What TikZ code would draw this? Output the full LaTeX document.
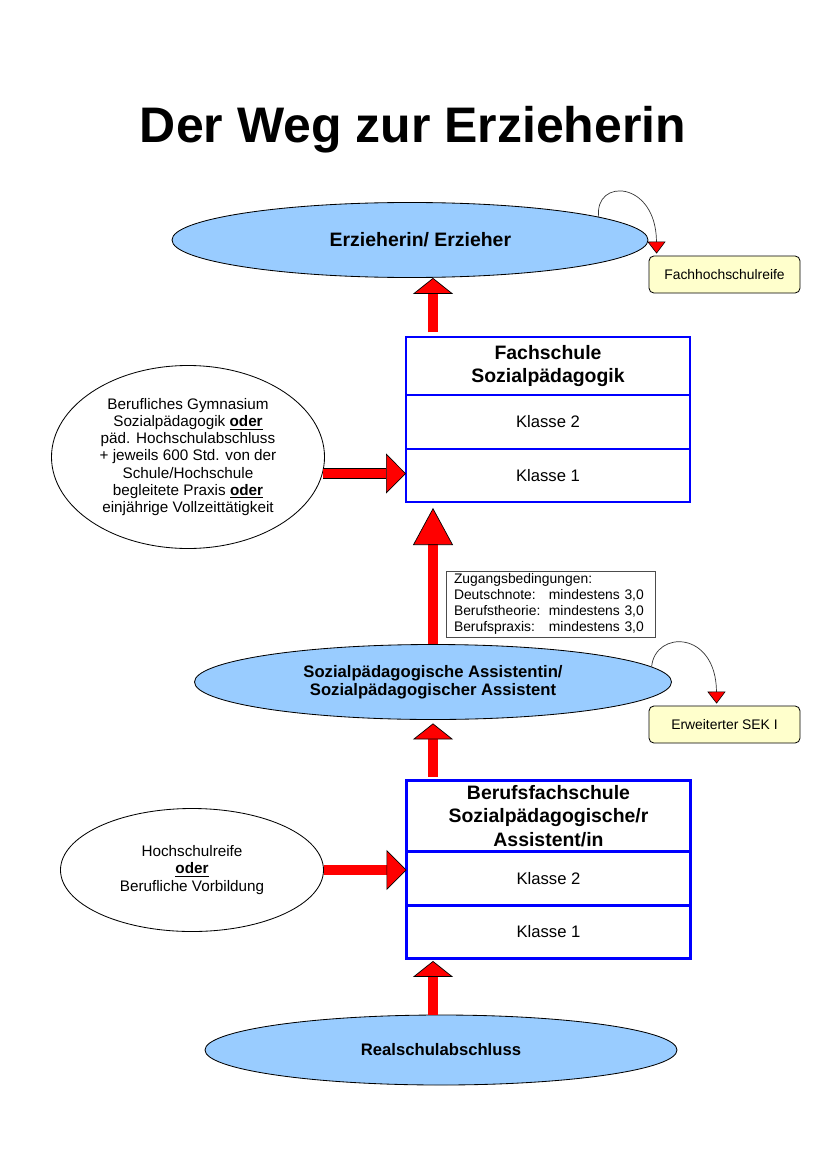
\documentclass[tikz,border=0pt]{standalone}
\usepackage{fontspec}
\setmainfont{Liberation Sans}
\usetikzlibrary{arrows.meta,positioning,calc,shapes.geometric}
\definecolor{goalblue}{RGB}{153,204,255}
\definecolor{noteyellow}{RGB}{255,255,204}
\newcommand{\px}{0.7205pt} % one pixel of the A4 page
\tikzset{x=0.7205pt, y=-0.7205pt, % work in page pixels, y downwards
        goal/.style={ % Blue ellipses for the qualifications
            ellipse, draw, line width=0.6pt,
            fill=goalblue, inner sep=0pt, align=center,
            font=\bfseries\fontsize{12}{13}\selectfont},
        entry/.style={ % White ellipses with entry requirements
            ellipse, draw, line width=0.6pt,
            inner sep=0pt, align=center,
            font=\fontsize{11}{12.3}\selectfont},
        schoolhead/.style={ % Head of a school column
            rectangle, draw=blue, line width=2pt, outer sep=0pt,
            minimum width=284*\px, align=center,
            font=\bfseries\fontsize{14}{16.8}\selectfont},
        schoolrow/.style={ % One year of a school
            schoolhead, minimum height=54*\px,
            font=\fontsize{12}{14}\selectfont},
        note/.style={ % Yellow side notes
            rectangle, rounded corners=3.5pt, draw, line width=0.6pt,
            fill=noteyellow, minimum width=151*\px, minimum height=37*\px,
            font=\fontsize{10}{12}\selectfont},
        blockarr/.style={ % Red block arrows, #1 is the head length
            draw=red, line width=6.5pt,
            -{Triangle[width=28.8pt, length=#1, fill=red, color=black, line width=0.5pt]},
            preaction={draw=black, line width=7.5pt, arrows=-, shorten >=#1}},
        blockarr/.default=11.5pt,
        noteedge/.style={ % Thin bent arrows to the notes
            draw=black!80, line width=0.5pt,
            -{Triangle[width=13pt, length=8.6pt, fill=red, color=black, line width=0.4pt]}}
        }
\begin{document}
\begin{tikzpicture}
    \useasboundingbox (0,0) rectangle (826,1169);

    \node[anchor=base, font=\bfseries\fontsize{36}{40}\selectfont] (title) at (413,143) {Der Weg zur Erzieherin};

    % top
    \node[goal, minimum width=476*\px, minimum height=75*\px,
          font=\bfseries\fontsize{14}{16}\selectfont] (erz) at (410,240) {\hspace*{15pt}Erzieherin/ Erzieher};
    \node[note] (fhr) at (724.5,274.5) {Fachhochschulreife};

    % Fachschule
    \node[schoolhead, minimum height=58*\px] (fsh) at (548,366) {Fachschule\\Sozialp\"adagogik};
    \node[schoolrow, below=0pt of fsh] (fs2) {Klasse 2};
    \node[schoolrow, below=0pt of fs2, minimum height=53*\px] (fs1) {Klasse 1};

    \node[entry, minimum width=273*\px, minimum height=183*\px] (gym) at (188,457)
        {Berufliches Gymnasium\\
         Sozialp\"adagogik \underline{\textbf{oder}}\\
         p\"ad. Hochschulabschluss\\
         + jeweils 600 Std. von der\\
         Schule/Hochschule\\
         begleitete Praxis \underline{\textbf{oder}}\\
         einj\"ahrige Vollzeitt\"atigkeit};

    \node[draw=black!70, line width=0.6pt, align=left, text width=193*\px,
          inner xsep=8*\px, inner ysep=1pt, minimum height=66*\px,
          font=\fontsize{10}{11.5}\selectfont] (zug) at (550.5,604)
        {Zugangsbedingungen:\\
         \makebox[68.4pt][l]{Deutschnote:}mindestens 3,0\\
         \makebox[68.4pt][l]{Berufstheorie:}mindestens 3,0\\
         \makebox[68.4pt][l]{Berufspraxis:}mindestens 3,0};

    % middle
    \node[goal, minimum width=477*\px, minimum height=75*\px] (spa) at (433,682)
        {Sozialp\"adagogische Assistentin/\\Sozialp\"adagogischer Assistent};
    \node[note] (sek) at (724.5,724.5) {Erweiterter SEK I};

    % Berufsfachschule
    \node[schoolhead, minimum height=70*\px] (bfsh) at (548.5,816)
        {Berufsfachschule\\Sozialp\"adagogische/r\\Assistent/in};
    \node[schoolrow, below=0pt of bfsh] (bfs2) {Klasse 2};
    \node[schoolrow, below=0pt of bfs2, minimum height=53*\px] (bfs1) {Klasse 1};

    \node[entry, minimum width=263*\px, minimum height=123*\px] (hsr) at (192,870)
        {Hochschulreife\\\underline{\textbf{oder}}\\Berufliche Vorbildung};

    % bottom
    \node[goal, minimum width=472*\px, minimum height=70*\px] (rsa) at (441,1050) {Realschulabschluss};

    % block arrows
    \draw[blockarr, shorten <=3.6pt] (fsh.north -| spa.north) -- (erz.south -| spa.north);
    \draw[blockarr=26.7pt, shorten >=4.3pt] (spa.north) -- (fs1.south -| spa.north);
    \draw[blockarr, shorten <=3pt, shorten >=2.5pt] (bfsh.north -| spa.north) -- (spa.south);
    \draw[blockarr, shorten >=2pt] (rsa.north -| spa.north) -- (bfs1.south -| spa.north);
    \draw[blockarr=14.4pt] (gym.-7.9) -- (gym.-7.9 -| fs1.west);
    \draw[blockarr=14.4pt] (hsr.east) -- (hsr.east -| bfs2.west);

    % side notes
    \draw[noteedge] (erz.7.5) .. controls (594,178) and (656,180) .. ($(fhr.north west)+(8,-2)$);
    \draw[noteedge] (spa.4) .. controls (655,630) and (716,630) .. ($(sek.north west)+(68,-2)$);
\end{tikzpicture}
\end{document}
